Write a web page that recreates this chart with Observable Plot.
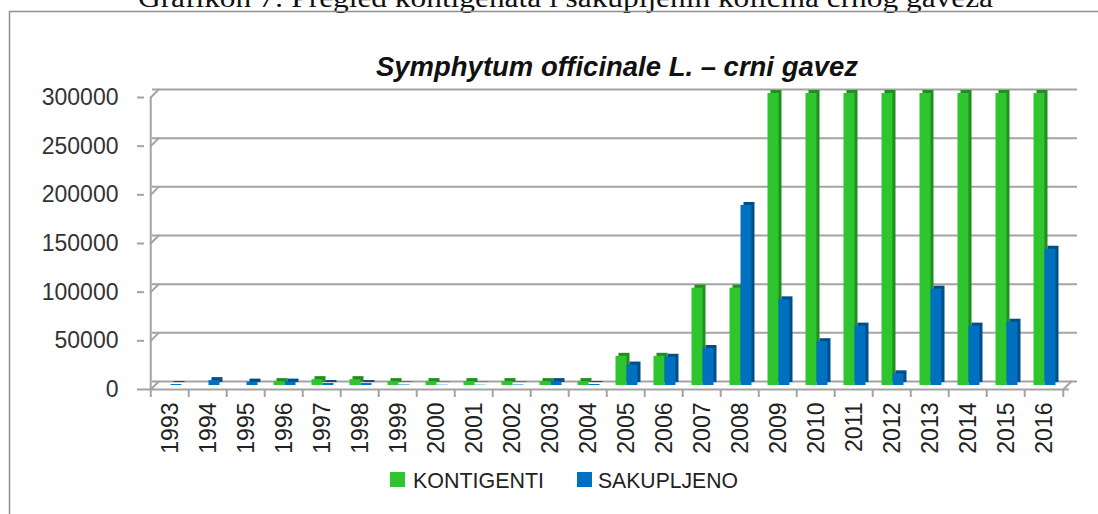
<!DOCTYPE html>
<html><head><meta charset="utf-8">
<script src="https://cdn.jsdelivr.net/npm/d3@7"></script>
<script src="https://cdn.jsdelivr.net/npm/@observablehq/plot@0.6"></script>
<style>
body{margin:0;background:#fff}
#wrap{position:relative;width:1098px;height:514px;overflow:hidden;background:#fff}
#wrap svg{position:absolute;left:0;top:0}
</style>
</head><body><div id="wrap"></div>
<script>
const years = ["1993","1994","1995","1996","1997","1998","1999","2000","2001","2002","2003","2004","2005","2006","2007","2008","2009","2010","2011","2012","2013","2014","2015","2016"];
const kontigenti = [0,0,0,4000,6000,6000,4000,4000,4000,4000,4000,4000,30000,30000,100000,100000,300000,300000,300000,300000,300000,300000,300000,300000];
const sakupljeno = [1000,5000,3500,3500,2000,2000,500,300,300,500,4000,1000,21000,29000,38000,185000,88000,45000,61000,12000,99000,61000,65000,140000];
const yTicks = [0,50000,100000,150000,200000,250000,300000];
const seriesNames = ["KONTIGENTI","SAKUPLJENO"];
const captionText = "Grafikon 7: Pregled kontigenata i sakupljenih količina crnog gaveza";
const titleText = "Symphytum officinale L. – crni gavez";

const green = "#2ec52e", greenDark = "#1f8f1f";
const blue = "#0070c0", blueDark = "#004f88";
const grid = "#a3a3a3";

const gData = years.map((y,i)=>({year:y, value:kontigenti[i]}));
const bData = years.map((y,i)=>({year:y, value:sakupljeno[i]}));

const W = 1098, H = 470, mL = 145, mR = 28, mT = 93, mB = 85;
const step = (W - mL - mR) / years.length;
const bw = 11;
const pInner = 1 - bw/step;

const lineShape = {draw(ctx, l){ ctx.moveTo(0,0); ctx.lineTo(0,-l); }};

const chart = Plot.plot({
  width: W, height: H,
  marginLeft: mL, marginRight: mR, marginTop: mT, marginBottom: mB,
  style: {fontFamily: "'Liberation Sans', Arial, sans-serif", background: "transparent", overflow: "visible"},
  x: {domain: years, paddingInner: pInner, paddingOuter: pInner/2, align: 0.5, label: null},
  y: {domain: [0, 300000], label: null},
  marks: [
    Plot.ruleY(yTicks, {stroke: grid, strokeWidth: 2, dx: 7, dy: -4}),
    Plot.vector(yTicks, {x: () => years[0], y: d => d, length: 11.3, rotate: 45, anchor: "start",
      dx: -step/2 - 1, dy: 4, stroke: grid, strokeWidth: 2, shape: lineShape}),
    Plot.ruleY([0], {stroke: grid, strokeWidth: 2, dy: 4, dx: -1}),
    Plot.vector([0], {x: () => years[years.length-1], y: d => d, length: 11.3, rotate: 45, anchor: "start",
      dx: step/2 - 1, dy: 4, stroke: grid, strokeWidth: 2, shape: lineShape}),
    Plot.ruleX([years[0]], {y1: 0, y2: 300000, dx: -step/2 - 1, dy: 4, stroke: grid, strokeWidth: 2}),
    Plot.barY(gData, {x: "year", y: "value", fill: greenDark, dx: -bw/2 + 3, dy: -3}),
    Plot.barY(gData, {x: "year", y: "value", fill: green, dx: -bw/2}),
    Plot.barY(bData, {x: "year", y: "value", fill: blueDark, dx: bw/2 + 3, dy: -3}),
    Plot.barY(bData, {x: "year", y: "value", fill: blue, dx: bw/2}),
    Plot.axisY({ticks: yTicks, tickSize: 7, tickPadding: 19, dx: -1, dy: 4, stroke: grid, strokeWidth: 2,
      fill: "#333", fontSize: 23, tickFormat: d => String(d), label: null}),
    Plot.axisX({ticks: years, tickSize: 8, dx: -step/2 - 1, dy: 4, stroke: grid, strokeWidth: 2, tickFormat: () => "", label: null}),
    Plot.axisX({ticks: [years[years.length-1]], tickSize: 8, dx: step/2 - 1, dy: 4, stroke: grid, strokeWidth: 2, tickFormat: () => "", label: null}),
    Plot.axisX({ticks: years, tickSize: 0, tickPadding: 13, tickRotate: -90, dy: 4, fill: "#222", fontSize: 23, label: null})
  ]
});

const wrap = document.getElementById("wrap");
wrap.appendChild(chart);

const ov = d3.select(wrap).append("svg").attr("width", W).attr("height", 514)
  .style("font-family", "'Liberation Sans', Arial, sans-serif");
ov.append("text").attr("x", 138).attr("y", 7).attr("textLength", 855).attr("lengthAdjust", "spacingAndGlyphs")
  .style("font-family", "'Liberation Serif', 'Times New Roman', serif").style("font-size", "27px").attr("fill", "#111")
  .text(captionText);
ov.append("path").attr("d", "M9.5,514V11.5H1098").attr("fill", "none").attr("stroke", "#8f8f8f").attr("stroke-width", 1.5);
ov.append("text").attr("x", 376).attr("y", 76).attr("textLength", 482).attr("lengthAdjust", "spacingAndGlyphs")
  .style("font-size", "27px").style("font-weight", "bold").style("font-style", "italic").attr("fill", "#111")
  .text(titleText);
const leg = [{name: seriesNames[0], color: green, x: 390, tx: 413, tl: 131}, {name: seriesNames[1], color: blue, x: 577, tx: 598, tl: 140}];
leg.forEach(l => {
  ov.append("rect").attr("x", l.x).attr("y", 472).attr("width", 15).attr("height", 15).attr("fill", l.color);
  ov.append("text").attr("x", l.tx).attr("y", 488).attr("textLength", l.tl).attr("lengthAdjust", "spacingAndGlyphs")
    .style("font-size", "22px").attr("fill", "#222").text(l.name);
});
</script></body></html>
